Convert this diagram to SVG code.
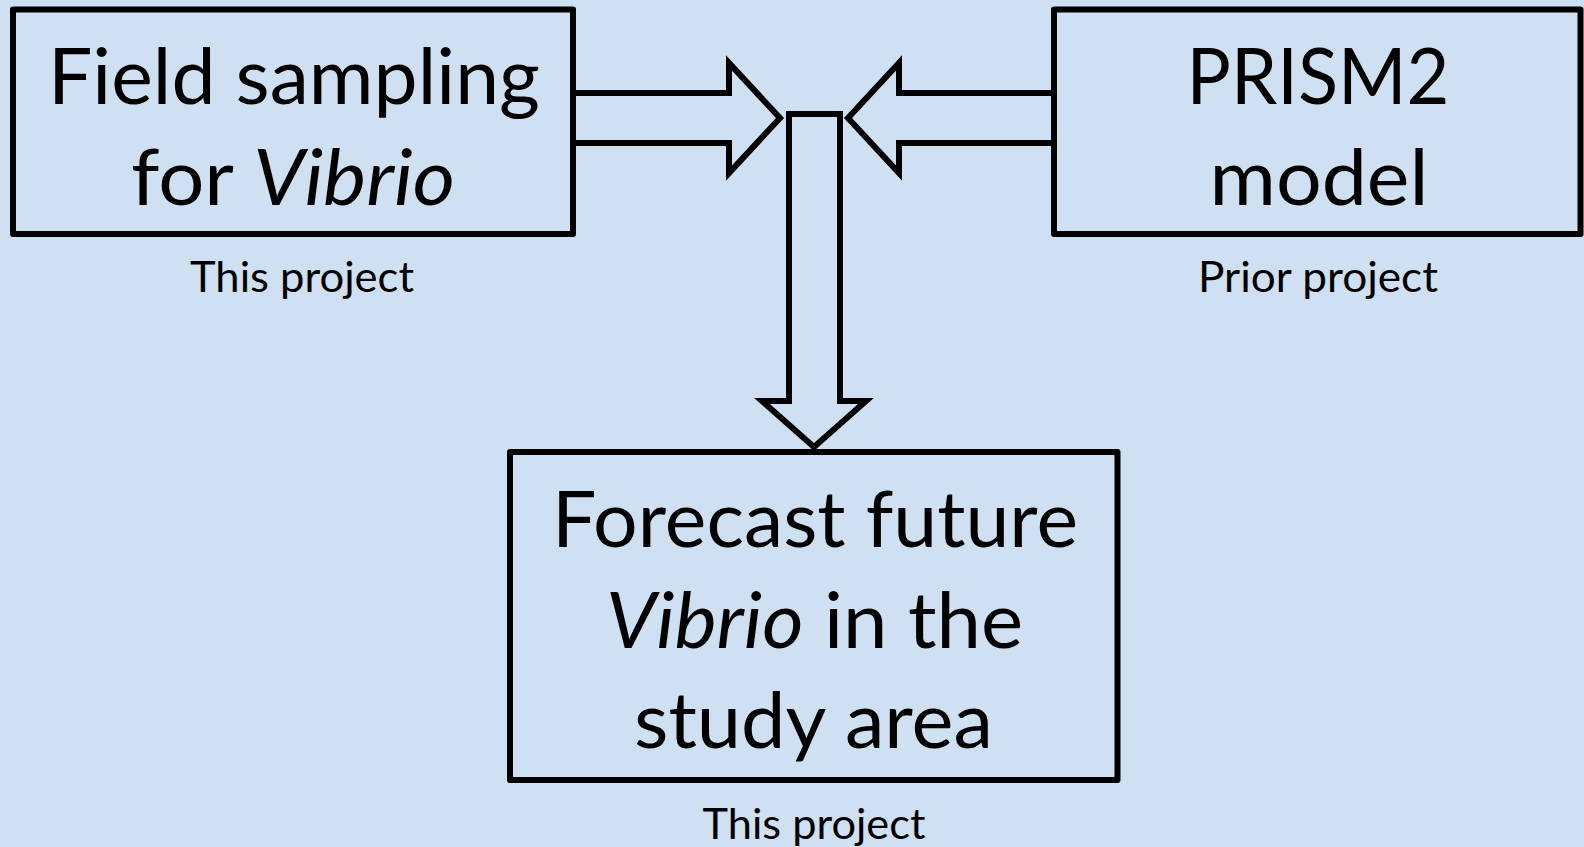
<svg xmlns="http://www.w3.org/2000/svg" width="1584" height="847" viewBox="0 0 1584 847">
<style>
.bg{fill:#CFE0F2}
.box{fill:#CFE0F2;stroke:#000;stroke-width:6;stroke-linejoin:round}
.arr{fill:#CFE0F2;stroke:#000;stroke-width:6;stroke-linejoin:miter}
.big{font-family:Lato,"Liberation Sans",sans-serif;font-size:78px;fill:#000;text-anchor:middle}
.small{font-family:Lato,"Liberation Sans",sans-serif;font-size:43px;fill:#000;text-anchor:middle}
.it{font-style:italic}
</style>
<rect class="bg" x="0" y="0" width="1584" height="847"/>
<g id="connectors">
<polygon class="arr" points="573,93 729,93 729,63 780,118 729,173 729,143 573,143"/>
<polygon class="arr" points="1054,93 899,93 899,63 848,118 899,173 899,143 1054,143"/>
<polygon class="arr" points="789,114 840,114 840,401 866,401 814,447 762,401 789,401"/>
</g>
<g id="node-field">
<rect class="box" x="13" y="9.5" width="560" height="224.5"/>
<text class="big" x="294" y="104" textLength="492" lengthAdjust="spacingAndGlyphs">Field sampling</text>
<text class="big" x="293" y="205" textLength="324" lengthAdjust="spacingAndGlyphs">for <tspan class="it">Vibrio</tspan></text>
<text class="small" x="302" y="292" textLength="224" lengthAdjust="spacingAndGlyphs">This project</text>
</g>
<g id="node-prism">
<rect class="box" x="1054" y="9.5" width="526.5" height="224.5"/>
<text class="big" x="1318" y="104" textLength="263" lengthAdjust="spacingAndGlyphs">PRISM2</text>
<text class="big" x="1319" y="205" textLength="219" lengthAdjust="spacingAndGlyphs">model</text>
<text class="small" x="1318" y="292" textLength="240" lengthAdjust="spacingAndGlyphs">Prior project</text>
</g>
<g id="node-forecast">
<rect class="box" x="510" y="452" width="607.5" height="328"/>
<text class="big" x="815" y="546.5" textLength="526" lengthAdjust="spacingAndGlyphs">Forecast future</text>
<text class="big" x="814.5" y="647.5" textLength="417" lengthAdjust="spacingAndGlyphs"><tspan class="it">Vibrio</tspan> in the</text>
<text class="big" x="813.5" y="747.5" textLength="359" lengthAdjust="spacingAndGlyphs">study area</text>
<text class="small" x="814" y="838.5" textLength="223" lengthAdjust="spacingAndGlyphs">This project</text>
</g>
</svg>
